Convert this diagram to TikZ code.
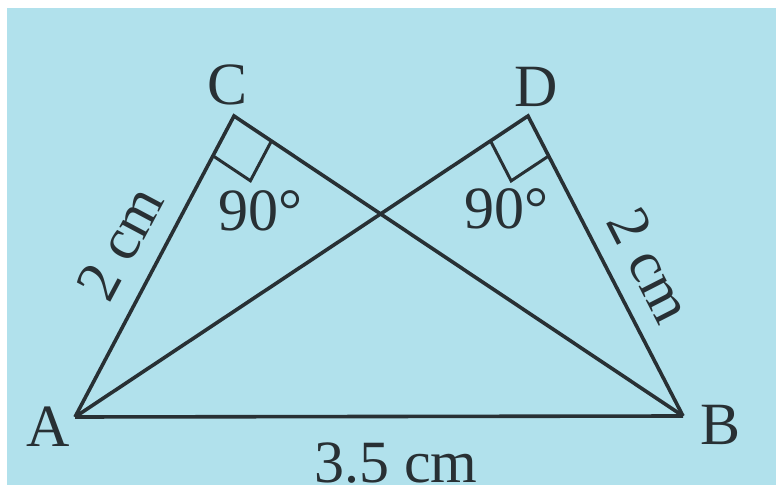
\documentclass[tikz,border=0pt]{standalone}
\usepackage{fontspec}
\setmainfont{Liberation Serif}
\usetikzlibrary{calc}
\definecolor{bgblue}{RGB}{177,225,236}
\definecolor{ink}{RGB}{40,48,52}
\begin{document}
\begin{tikzpicture}[x=0.5pt,y=-0.5pt,
  edge/.style={draw=ink,line width=1.8pt,line join=miter},
  rightmark/.style={draw=ink,line width=1.5pt},
  lbl/.style={text=ink,font=\fontsize{30}{32}\selectfont,inner sep=0pt}]
\useasboundingbox (0,0) rectangle (776,485);
\fill[white] (0,0) rectangle (776,485);
\fill[bgblue] (7,8) rectangle (776,485);
\coordinate (A) at (75,417);
\coordinate (B) at (683,416);
\coordinate (C) at (234,116);
\coordinate (D) at (528,116);
% right angle marks
\coordinate (ca) at ($(C)!22.5pt!(A)$);
\coordinate (cb) at ($(C)!22.5pt!(B)$);
\coordinate (da) at ($(D)!22.5pt!(A)$);
\coordinate (db) at ($(D)!22.5pt!(B)$);
\draw[rightmark] (ca) -- ($(ca)+(cb)-(C)$) -- (cb);
\draw[rightmark] (da) -- ($(da)+(db)-(D)$) -- (db);
% triangles
\draw[edge] (A) -- (C) -- (B);
\draw[edge] (A) -- (D) -- (B);
\draw[edge] (A) -- (B);
% labels
\node[lbl] (lA) at (48,427) {A};
\node[lbl] (lB) at (721,425) {B};
\node[lbl] (lC) at (228,85) {C};
\node[lbl] (lD) at (536,87) {D};
\node[lbl] (a1) at (260,211) {90°};
\node[lbl] (a2) at (506,209) {90°};
\node[lbl,rotate=62] (s1) at (120,243) {2 cm};
\node[lbl,rotate=-63] (s2) at (650,265) {2 cm};
\node[lbl] (s3) at (396,463) {3.5 cm};
\end{tikzpicture}
\end{document}
